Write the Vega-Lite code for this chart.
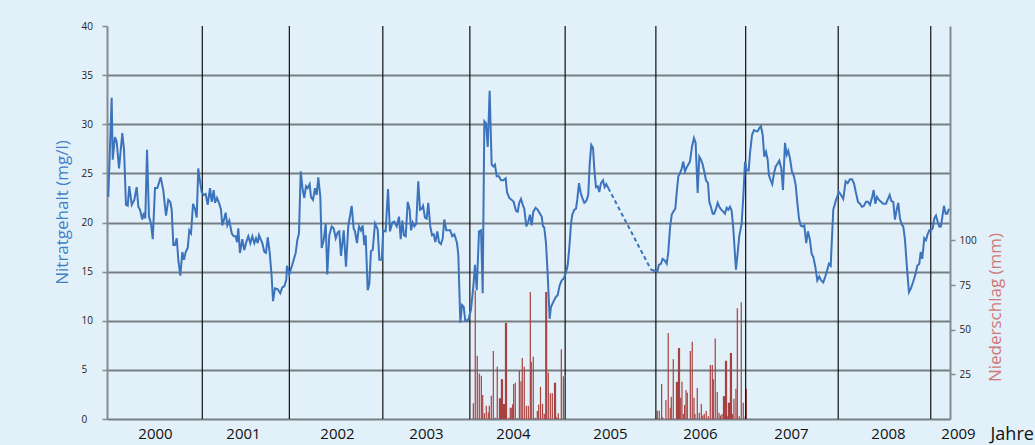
{
  "$schema": "https://vega.github.io/schema/vega-lite/v6.json",
  "width": 843,
  "height": 393,
  "autosize": {"type": "none"},
  "padding": {"left": 107, "top": 26, "right": 85, "bottom": 26},
  "background": "#e2f0f9",
  "config": {"view": {"stroke": null}, "font": "Open Sans"},
  "datasets": {
    "grenzen": [
      {"jahr": 2001.04}, {"jahr": 2001.99}, {"jahr": 2003.01}, {"jahr": 2003.96}, {"jahr": 2005.0},
      {"jahr": 2005.99}, {"jahr": 2006.97}, {"jahr": 2007.98}, {"jahr": 2008.99}
    ],
    "regen": [
      {"jahr": 2003.998, "mm": 8.8}, {"jahr": 2004.019, "mm": 72}, {"jahr": 2004.041, "mm": 35.4}, {"jahr": 2004.063, "mm": 25.5},
      {"jahr": 2004.085, "mm": 24.2}, {"jahr": 2004.1, "mm": 13.4}, {"jahr": 2004.118, "mm": 3.2}, {"jahr": 2004.139, "mm": 7.4},
      {"jahr": 2004.161, "mm": 3.7}, {"jahr": 2004.172, "mm": 7.4}, {"jahr": 2004.194, "mm": 13.0}, {"jahr": 2004.216, "mm": 38.0},
      {"jahr": 2004.238, "mm": 0.7}, {"jahr": 2004.259, "mm": 29.2}, {"jahr": 2004.283, "mm": 11.6}, {"jahr": 2004.294, "mm": 11.6},
      {"jahr": 2004.305, "mm": 22.3}, {"jahr": 2004.316, "mm": 22.3}, {"jahr": 2004.327, "mm": 8.4}, {"jahr": 2004.338, "mm": 8.4},
      {"jahr": 2004.349, "mm": 53.8}, {"jahr": 2004.36, "mm": 53.8}, {"jahr": 2004.384, "mm": 0.7}, {"jahr": 2004.401, "mm": 6.3},
      {"jahr": 2004.412, "mm": 6.3}, {"jahr": 2004.427, "mm": 8.2}, {"jahr": 2004.438, "mm": 19.6}, {"jahr": 2004.456, "mm": 20.3},
      {"jahr": 2004.478, "mm": 0.5}, {"jahr": 2004.5, "mm": 27.0}, {"jahr": 2004.518, "mm": 21.2}, {"jahr": 2004.532, "mm": 34.2},
      {"jahr": 2004.554, "mm": 29.2}, {"jahr": 2004.576, "mm": 7.4}, {"jahr": 2004.598, "mm": 7.4}, {"jahr": 2004.62, "mm": 71.1},
      {"jahr": 2004.63, "mm": 32.0}, {"jahr": 2004.652, "mm": 34.8}, {"jahr": 2004.674, "mm": 0.7}, {"jahr": 2004.696, "mm": 4.5},
      {"jahr": 2004.711, "mm": 8.0}, {"jahr": 2004.731, "mm": 18.0}, {"jahr": 2004.753, "mm": 8.5}, {"jahr": 2004.772, "mm": 3.0},
      {"jahr": 2004.788, "mm": 71.1}, {"jahr": 2004.798, "mm": 71.1}, {"jahr": 2004.816, "mm": 26.1}, {"jahr": 2004.838, "mm": 14.4},
      {"jahr": 2004.86, "mm": 14.4}, {"jahr": 2004.884, "mm": 20.3}, {"jahr": 2004.895, "mm": 20.3}, {"jahr": 2004.908, "mm": 1.0},
      {"jahr": 2004.925, "mm": 3.2}, {"jahr": 2004.958, "mm": 39.1}, {"jahr": 2004.98, "mm": 24.0},
      {"jahr": 2006.005, "mm": 4.6}, {"jahr": 2006.027, "mm": 4.6}, {"jahr": 2006.053, "mm": 19.6}, {"jahr": 2006.064, "mm": 1.0},
      {"jahr": 2006.1, "mm": 10.6}, {"jahr": 2006.125, "mm": 48.2}, {"jahr": 2006.147, "mm": 6.3}, {"jahr": 2006.158, "mm": 12.5},
      {"jahr": 2006.18, "mm": 33.5}, {"jahr": 2006.215, "mm": 20.8}, {"jahr": 2006.226, "mm": 20.8}, {"jahr": 2006.237, "mm": 39.7},
      {"jahr": 2006.248, "mm": 39.7}, {"jahr": 2006.261, "mm": 11.9}, {"jahr": 2006.275, "mm": 20.8}, {"jahr": 2006.289, "mm": 2.8},
      {"jahr": 2006.304, "mm": 7.8}, {"jahr": 2006.319, "mm": 16.2}, {"jahr": 2006.333, "mm": 14.7}, {"jahr": 2006.366, "mm": 38.0},
      {"jahr": 2006.387, "mm": 43.2}, {"jahr": 2006.406, "mm": 11.9}, {"jahr": 2006.417, "mm": 2.8}, {"jahr": 2006.442, "mm": 17.3},
      {"jahr": 2006.464, "mm": 3.5}, {"jahr": 2006.486, "mm": 8.4}, {"jahr": 2006.501, "mm": 2.0}, {"jahr": 2006.518, "mm": 3.0},
      {"jahr": 2006.54, "mm": 4.5}, {"jahr": 2006.562, "mm": 1.5}, {"jahr": 2006.584, "mm": 30.2}, {"jahr": 2006.606, "mm": 30.2},
      {"jahr": 2006.617, "mm": 22.3}, {"jahr": 2006.638, "mm": 45.1}, {"jahr": 2006.66, "mm": 15.1}, {"jahr": 2006.679, "mm": 3.5},
      {"jahr": 2006.695, "mm": 2.0}, {"jahr": 2006.712, "mm": 2.8}, {"jahr": 2006.728, "mm": 12.8}, {"jahr": 2006.739, "mm": 12.8},
      {"jahr": 2006.75, "mm": 32.6}, {"jahr": 2006.761, "mm": 32.6}, {"jahr": 2006.774, "mm": 1.5}, {"jahr": 2006.782, "mm": 9.1},
      {"jahr": 2006.793, "mm": 9.1}, {"jahr": 2006.804, "mm": 37.0}, {"jahr": 2006.815, "mm": 37.0}, {"jahr": 2006.828, "mm": 2.8},
      {"jahr": 2006.842, "mm": 11.3}, {"jahr": 2006.864, "mm": 16.9}, {"jahr": 2006.879, "mm": 62.0}, {"jahr": 2006.9, "mm": 1.5},
      {"jahr": 2006.922, "mm": 65.4}, {"jahr": 2006.944, "mm": 9.1}, {"jahr": 2006.966, "mm": 1.5}, {"jahr": 2006.977, "mm": 16.9}
    ],
    "nitrat": [
      {"jahr": 2000.014, "nitrat": 22.6, "abschnitt": "a"}, {"jahr": 2000.051, "nitrat": 32.7, "abschnitt": "a"}, {"jahr": 2000.062, "nitrat": 26.4, "abschnitt": "a"},
      {"jahr": 2000.087, "nitrat": 28.7, "abschnitt": "a"}, {"jahr": 2000.106, "nitrat": 28.2, "abschnitt": "a"}, {"jahr": 2000.131, "nitrat": 25.5, "abschnitt": "a"},
      {"jahr": 2000.167, "nitrat": 29.1, "abschnitt": "a"}, {"jahr": 2000.186, "nitrat": 27.4, "abschnitt": "a"}, {"jahr": 2000.207, "nitrat": 21.8, "abschnitt": "a"},
      {"jahr": 2000.226, "nitrat": 21.7, "abschnitt": "a"}, {"jahr": 2000.243, "nitrat": 23.7, "abschnitt": "a"}, {"jahr": 2000.27, "nitrat": 21.8, "abschnitt": "a"},
      {"jahr": 2000.298, "nitrat": 22.3, "abschnitt": "a"}, {"jahr": 2000.324, "nitrat": 23.6, "abschnitt": "a"}, {"jahr": 2000.342, "nitrat": 21.6, "abschnitt": "a"},
      {"jahr": 2000.36, "nitrat": 21.3, "abschnitt": "a"}, {"jahr": 2000.385, "nitrat": 20.3, "abschnitt": "a"}, {"jahr": 2000.404, "nitrat": 21.0, "abschnitt": "a"},
      {"jahr": 2000.418, "nitrat": 20.4, "abschnitt": "a"}, {"jahr": 2000.437, "nitrat": 27.4, "abschnitt": "a"}, {"jahr": 2000.458, "nitrat": 20.6, "abschnitt": "a"},
      {"jahr": 2000.48, "nitrat": 19.9, "abschnitt": "a"}, {"jahr": 2000.499, "nitrat": 18.3, "abschnitt": "a"}, {"jahr": 2000.524, "nitrat": 23.5, "abschnitt": "a"},
      {"jahr": 2000.549, "nitrat": 23.5, "abschnitt": "a"}, {"jahr": 2000.586, "nitrat": 24.6, "abschnitt": "a"}, {"jahr": 2000.614, "nitrat": 23.3, "abschnitt": "a"},
      {"jahr": 2000.644, "nitrat": 20.7, "abschnitt": "a"}, {"jahr": 2000.669, "nitrat": 22.3, "abschnitt": "a"}, {"jahr": 2000.691, "nitrat": 22.1, "abschnitt": "a"},
      {"jahr": 2000.706, "nitrat": 21.3, "abschnitt": "a"}, {"jahr": 2000.724, "nitrat": 17.7, "abschnitt": "a"}, {"jahr": 2000.742, "nitrat": 17.7, "abschnitt": "a"},
      {"jahr": 2000.761, "nitrat": 18.4, "abschnitt": "a"}, {"jahr": 2000.778, "nitrat": 16.2, "abschnitt": "a"}, {"jahr": 2000.8, "nitrat": 14.6, "abschnitt": "a"},
      {"jahr": 2000.822, "nitrat": 17.0, "abschnitt": "a"}, {"jahr": 2000.84, "nitrat": 16.2, "abschnitt": "a"}, {"jahr": 2000.859, "nitrat": 17.0, "abschnitt": "a"},
      {"jahr": 2000.881, "nitrat": 17.4, "abschnitt": "a"}, {"jahr": 2000.898, "nitrat": 19.2, "abschnitt": "a"}, {"jahr": 2000.917, "nitrat": 18.9, "abschnitt": "a"},
      {"jahr": 2000.939, "nitrat": 21.9, "abschnitt": "a"}, {"jahr": 2000.96, "nitrat": 21.4, "abschnitt": "a"}, {"jahr": 2000.979, "nitrat": 20.5, "abschnitt": "a"},
      {"jahr": 2000.996, "nitrat": 25.5, "abschnitt": "a"}, {"jahr": 2001.015, "nitrat": 24.2, "abschnitt": "a"}, {"jahr": 2001.033, "nitrat": 23.1, "abschnitt": "a"},
      {"jahr": 2001.055, "nitrat": 22.8, "abschnitt": "a"}, {"jahr": 2001.077, "nitrat": 22.9, "abschnitt": "a"}, {"jahr": 2001.099, "nitrat": 21.8, "abschnitt": "a"},
      {"jahr": 2001.124, "nitrat": 23.5, "abschnitt": "a"}, {"jahr": 2001.143, "nitrat": 22.1, "abschnitt": "a"}, {"jahr": 2001.164, "nitrat": 23.3, "abschnitt": "a"},
      {"jahr": 2001.179, "nitrat": 22.0, "abschnitt": "a"}, {"jahr": 2001.2, "nitrat": 22.5, "abschnitt": "a"}, {"jahr": 2001.226, "nitrat": 21.9, "abschnitt": "a"},
      {"jahr": 2001.244, "nitrat": 21.3, "abschnitt": "a"}, {"jahr": 2001.258, "nitrat": 19.7, "abschnitt": "a"}, {"jahr": 2001.277, "nitrat": 20.3, "abschnitt": "a"},
      {"jahr": 2001.295, "nitrat": 21.0, "abschnitt": "a"}, {"jahr": 2001.313, "nitrat": 19.7, "abschnitt": "a"}, {"jahr": 2001.335, "nitrat": 20.2, "abschnitt": "a"},
      {"jahr": 2001.361, "nitrat": 18.9, "abschnitt": "a"}, {"jahr": 2001.383, "nitrat": 18.6, "abschnitt": "a"}, {"jahr": 2001.404, "nitrat": 18.6, "abschnitt": "a"},
      {"jahr": 2001.419, "nitrat": 18.0, "abschnitt": "a"}, {"jahr": 2001.433, "nitrat": 19.4, "abschnitt": "a"}, {"jahr": 2001.451, "nitrat": 16.9, "abschnitt": "a"},
      {"jahr": 2001.477, "nitrat": 18.3, "abschnitt": "a"}, {"jahr": 2001.498, "nitrat": 17.2, "abschnitt": "a"}, {"jahr": 2001.52, "nitrat": 18.0, "abschnitt": "a"},
      {"jahr": 2001.542, "nitrat": 18.6, "abschnitt": "a"}, {"jahr": 2001.564, "nitrat": 17.9, "abschnitt": "a"}, {"jahr": 2001.586, "nitrat": 18.6, "abschnitt": "a"},
      {"jahr": 2001.608, "nitrat": 17.9, "abschnitt": "a"}, {"jahr": 2001.626, "nitrat": 18.4, "abschnitt": "a"}, {"jahr": 2001.645, "nitrat": 17.9, "abschnitt": "a"},
      {"jahr": 2001.659, "nitrat": 18.7, "abschnitt": "a"}, {"jahr": 2001.681, "nitrat": 18.2, "abschnitt": "a"}, {"jahr": 2001.695, "nitrat": 17.9, "abschnitt": "a"},
      {"jahr": 2001.717, "nitrat": 17.0, "abschnitt": "a"}, {"jahr": 2001.735, "nitrat": 16.9, "abschnitt": "a"}, {"jahr": 2001.754, "nitrat": 18.5, "abschnitt": "a"},
      {"jahr": 2001.776, "nitrat": 16.9, "abschnitt": "a"}, {"jahr": 2001.797, "nitrat": 14.5, "abschnitt": "a"}, {"jahr": 2001.812, "nitrat": 12.0, "abschnitt": "a"},
      {"jahr": 2001.833, "nitrat": 13.3, "abschnitt": "a"}, {"jahr": 2001.863, "nitrat": 13.2, "abschnitt": "a"}, {"jahr": 2001.891, "nitrat": 12.8, "abschnitt": "a"},
      {"jahr": 2001.913, "nitrat": 13.4, "abschnitt": "a"}, {"jahr": 2001.935, "nitrat": 13.5, "abschnitt": "a"}, {"jahr": 2001.957, "nitrat": 14.2, "abschnitt": "a"},
      {"jahr": 2001.964, "nitrat": 15.6, "abschnitt": "a"}, {"jahr": 2001.989, "nitrat": 14.7, "abschnitt": "a"}, {"jahr": 2002.022, "nitrat": 15.7, "abschnitt": "a"},
      {"jahr": 2002.059, "nitrat": 16.9, "abschnitt": "a"}, {"jahr": 2002.077, "nitrat": 18.2, "abschnitt": "a"}, {"jahr": 2002.095, "nitrat": 18.9, "abschnitt": "a"},
      {"jahr": 2002.114, "nitrat": 25.2, "abschnitt": "a"}, {"jahr": 2002.136, "nitrat": 23.3, "abschnitt": "a"}, {"jahr": 2002.153, "nitrat": 22.5, "abschnitt": "a"},
      {"jahr": 2002.172, "nitrat": 23.7, "abschnitt": "a"}, {"jahr": 2002.19, "nitrat": 23.5, "abschnitt": "a"}, {"jahr": 2002.212, "nitrat": 23.9, "abschnitt": "a"},
      {"jahr": 2002.226, "nitrat": 22.6, "abschnitt": "a"}, {"jahr": 2002.248, "nitrat": 22.3, "abschnitt": "a"}, {"jahr": 2002.27, "nitrat": 23.5, "abschnitt": "a"},
      {"jahr": 2002.288, "nitrat": 22.8, "abschnitt": "a"}, {"jahr": 2002.306, "nitrat": 24.6, "abschnitt": "a"}, {"jahr": 2002.328, "nitrat": 22.6, "abschnitt": "a"},
      {"jahr": 2002.343, "nitrat": 17.4, "abschnitt": "a"}, {"jahr": 2002.365, "nitrat": 18.2, "abschnitt": "a"}, {"jahr": 2002.387, "nitrat": 19.9, "abschnitt": "a"},
      {"jahr": 2002.404, "nitrat": 14.7, "abschnitt": "a"}, {"jahr": 2002.426, "nitrat": 18.7, "abschnitt": "a"}, {"jahr": 2002.452, "nitrat": 19.6, "abschnitt": "a"},
      {"jahr": 2002.474, "nitrat": 19.4, "abschnitt": "a"}, {"jahr": 2002.496, "nitrat": 18.4, "abschnitt": "a"}, {"jahr": 2002.518, "nitrat": 19.0, "abschnitt": "a"},
      {"jahr": 2002.535, "nitrat": 19.1, "abschnitt": "a"}, {"jahr": 2002.554, "nitrat": 16.6, "abschnitt": "a"}, {"jahr": 2002.583, "nitrat": 19.2, "abschnitt": "a"},
      {"jahr": 2002.608, "nitrat": 15.5, "abschnitt": "a"}, {"jahr": 2002.633, "nitrat": 19.6, "abschnitt": "a"}, {"jahr": 2002.67, "nitrat": 21.7, "abschnitt": "a"},
      {"jahr": 2002.692, "nitrat": 19.4, "abschnitt": "a"}, {"jahr": 2002.706, "nitrat": 19.1, "abschnitt": "a"}, {"jahr": 2002.728, "nitrat": 17.9, "abschnitt": "a"},
      {"jahr": 2002.75, "nitrat": 19.6, "abschnitt": "a"}, {"jahr": 2002.772, "nitrat": 19.2, "abschnitt": "a"}, {"jahr": 2002.79, "nitrat": 19.7, "abschnitt": "a"},
      {"jahr": 2002.808, "nitrat": 17.7, "abschnitt": "a"}, {"jahr": 2002.823, "nitrat": 18.7, "abschnitt": "a"}, {"jahr": 2002.845, "nitrat": 13.1, "abschnitt": "a"},
      {"jahr": 2002.862, "nitrat": 13.7, "abschnitt": "a"}, {"jahr": 2002.881, "nitrat": 17.1, "abschnitt": "a"}, {"jahr": 2002.9, "nitrat": 17.2, "abschnitt": "a"},
      {"jahr": 2002.925, "nitrat": 19.9, "abschnitt": "a"}, {"jahr": 2002.954, "nitrat": 19.3, "abschnitt": "a"}, {"jahr": 2002.972, "nitrat": 16.2, "abschnitt": "a"},
      {"jahr": 2002.998, "nitrat": 16.2, "abschnitt": "a"}, {"jahr": 2003.015, "nitrat": 19.2, "abschnitt": "a"}, {"jahr": 2003.041, "nitrat": 19.1, "abschnitt": "a"},
      {"jahr": 2003.067, "nitrat": 23.4, "abschnitt": "a"}, {"jahr": 2003.088, "nitrat": 19.1, "abschnitt": "a"}, {"jahr": 2003.114, "nitrat": 20.0, "abschnitt": "a"},
      {"jahr": 2003.135, "nitrat": 20.1, "abschnitt": "a"}, {"jahr": 2003.162, "nitrat": 19.6, "abschnitt": "a"}, {"jahr": 2003.187, "nitrat": 20.6, "abschnitt": "a"},
      {"jahr": 2003.205, "nitrat": 18.3, "abschnitt": "a"}, {"jahr": 2003.223, "nitrat": 20.2, "abschnitt": "a"}, {"jahr": 2003.241, "nitrat": 18.7, "abschnitt": "a"},
      {"jahr": 2003.26, "nitrat": 18.6, "abschnitt": "a"}, {"jahr": 2003.282, "nitrat": 22.1, "abschnitt": "a"}, {"jahr": 2003.303, "nitrat": 21.3, "abschnitt": "a"},
      {"jahr": 2003.318, "nitrat": 19.2, "abschnitt": "a"}, {"jahr": 2003.336, "nitrat": 20.0, "abschnitt": "a"}, {"jahr": 2003.354, "nitrat": 19.6, "abschnitt": "a"},
      {"jahr": 2003.375, "nitrat": 19.9, "abschnitt": "a"}, {"jahr": 2003.397, "nitrat": 24.2, "abschnitt": "a"}, {"jahr": 2003.416, "nitrat": 21.3, "abschnitt": "a"},
      {"jahr": 2003.434, "nitrat": 21.4, "abschnitt": "a"}, {"jahr": 2003.449, "nitrat": 21.7, "abschnitt": "a"}, {"jahr": 2003.47, "nitrat": 20.5, "abschnitt": "a"},
      {"jahr": 2003.489, "nitrat": 20.4, "abschnitt": "a"}, {"jahr": 2003.506, "nitrat": 22.0, "abschnitt": "a"}, {"jahr": 2003.528, "nitrat": 19.6, "abschnitt": "a"},
      {"jahr": 2003.547, "nitrat": 18.7, "abschnitt": "a"}, {"jahr": 2003.565, "nitrat": 18.8, "abschnitt": "a"}, {"jahr": 2003.583, "nitrat": 18.0, "abschnitt": "a"},
      {"jahr": 2003.605, "nitrat": 19.1, "abschnitt": "a"}, {"jahr": 2003.623, "nitrat": 18.0, "abschnitt": "a"}, {"jahr": 2003.645, "nitrat": 17.8, "abschnitt": "a"},
      {"jahr": 2003.664, "nitrat": 18.4, "abschnitt": "a"}, {"jahr": 2003.681, "nitrat": 20.3, "abschnitt": "a"}, {"jahr": 2003.703, "nitrat": 19.2, "abschnitt": "a"},
      {"jahr": 2003.725, "nitrat": 19.2, "abschnitt": "a"}, {"jahr": 2003.746, "nitrat": 19.2, "abschnitt": "a"}, {"jahr": 2003.768, "nitrat": 18.6, "abschnitt": "a"},
      {"jahr": 2003.79, "nitrat": 18.8, "abschnitt": "a"}, {"jahr": 2003.805, "nitrat": 18.4, "abschnitt": "a"}, {"jahr": 2003.82, "nitrat": 17.9, "abschnitt": "a"},
      {"jahr": 2003.834, "nitrat": 16.7, "abschnitt": "a"}, {"jahr": 2003.856, "nitrat": 9.8, "abschnitt": "a"}, {"jahr": 2003.874, "nitrat": 11.6, "abschnitt": "a"},
      {"jahr": 2003.893, "nitrat": 11.4, "abschnitt": "a"}, {"jahr": 2003.91, "nitrat": 10.0, "abschnitt": "a"}, {"jahr": 2003.943, "nitrat": 10.1, "abschnitt": "a"},
      {"jahr": 2003.972, "nitrat": 11.1, "abschnitt": "a"}, {"jahr": 2003.998, "nitrat": 13.5, "abschnitt": "a"}, {"jahr": 2004.016, "nitrat": 15.7, "abschnitt": "a"},
      {"jahr": 2004.035, "nitrat": 13.1, "abschnitt": "a"}, {"jahr": 2004.06, "nitrat": 19.1, "abschnitt": "a"}, {"jahr": 2004.082, "nitrat": 19.2, "abschnitt": "a"},
      {"jahr": 2004.1, "nitrat": 12.8, "abschnitt": "a"}, {"jahr": 2004.118, "nitrat": 30.3, "abschnitt": "a"}, {"jahr": 2004.136, "nitrat": 30.1, "abschnitt": "a"},
      {"jahr": 2004.155, "nitrat": 27.7, "abschnitt": "a"}, {"jahr": 2004.176, "nitrat": 33.4, "abschnitt": "a"}, {"jahr": 2004.198, "nitrat": 25.9, "abschnitt": "a"},
      {"jahr": 2004.216, "nitrat": 25.7, "abschnitt": "a"}, {"jahr": 2004.234, "nitrat": 25.9, "abschnitt": "a"}, {"jahr": 2004.253, "nitrat": 24.7, "abschnitt": "a"},
      {"jahr": 2004.278, "nitrat": 24.7, "abschnitt": "a"}, {"jahr": 2004.3, "nitrat": 24.3, "abschnitt": "a"}, {"jahr": 2004.325, "nitrat": 24.3, "abschnitt": "a"},
      {"jahr": 2004.351, "nitrat": 24.5, "abschnitt": "a"}, {"jahr": 2004.365, "nitrat": 23.1, "abschnitt": "a"}, {"jahr": 2004.39, "nitrat": 22.5, "abschnitt": "a"},
      {"jahr": 2004.417, "nitrat": 22.3, "abschnitt": "a"}, {"jahr": 2004.438, "nitrat": 22.1, "abschnitt": "a"}, {"jahr": 2004.463, "nitrat": 21.2, "abschnitt": "a"},
      {"jahr": 2004.482, "nitrat": 21.1, "abschnitt": "a"}, {"jahr": 2004.499, "nitrat": 22.0, "abschnitt": "a"}, {"jahr": 2004.518, "nitrat": 22.4, "abschnitt": "a"},
      {"jahr": 2004.537, "nitrat": 21.8, "abschnitt": "a"}, {"jahr": 2004.554, "nitrat": 21.4, "abschnitt": "a"}, {"jahr": 2004.576, "nitrat": 19.6, "abschnitt": "a"},
      {"jahr": 2004.598, "nitrat": 20.1, "abschnitt": "a"}, {"jahr": 2004.616, "nitrat": 20.8, "abschnitt": "a"}, {"jahr": 2004.635, "nitrat": 19.7, "abschnitt": "a"},
      {"jahr": 2004.652, "nitrat": 21.1, "abschnitt": "a"}, {"jahr": 2004.678, "nitrat": 21.5, "abschnitt": "a"}, {"jahr": 2004.7, "nitrat": 21.3, "abschnitt": "a"},
      {"jahr": 2004.725, "nitrat": 20.9, "abschnitt": "a"}, {"jahr": 2004.744, "nitrat": 20.6, "abschnitt": "a"}, {"jahr": 2004.758, "nitrat": 19.6, "abschnitt": "a"},
      {"jahr": 2004.772, "nitrat": 19.5, "abschnitt": "a"}, {"jahr": 2004.791, "nitrat": 17.9, "abschnitt": "a"}, {"jahr": 2004.809, "nitrat": 14.8, "abschnitt": "a"},
      {"jahr": 2004.831, "nitrat": 10.2, "abschnitt": "a"}, {"jahr": 2004.845, "nitrat": 11.4, "abschnitt": "a"}, {"jahr": 2004.87, "nitrat": 11.9, "abschnitt": "a"},
      {"jahr": 2004.897, "nitrat": 12.4, "abschnitt": "a"}, {"jahr": 2004.918, "nitrat": 12.6, "abschnitt": "a"}, {"jahr": 2004.94, "nitrat": 13.6, "abschnitt": "a"},
      {"jahr": 2004.962, "nitrat": 14.1, "abschnitt": "a"}, {"jahr": 2004.984, "nitrat": 14.3, "abschnitt": "a"}, {"jahr": 2005.009, "nitrat": 14.9, "abschnitt": "a"},
      {"jahr": 2005.028, "nitrat": 15.7, "abschnitt": "a"}, {"jahr": 2005.045, "nitrat": 17.4, "abschnitt": "a"}, {"jahr": 2005.064, "nitrat": 19.9, "abschnitt": "a"},
      {"jahr": 2005.078, "nitrat": 20.8, "abschnitt": "a"}, {"jahr": 2005.1, "nitrat": 21.3, "abschnitt": "a"}, {"jahr": 2005.118, "nitrat": 21.4, "abschnitt": "a"},
      {"jahr": 2005.132, "nitrat": 22.3, "abschnitt": "a"}, {"jahr": 2005.151, "nitrat": 24.0, "abschnitt": "a"}, {"jahr": 2005.17, "nitrat": 23.0, "abschnitt": "a"},
      {"jahr": 2005.187, "nitrat": 22.5, "abschnitt": "a"}, {"jahr": 2005.209, "nitrat": 22.0, "abschnitt": "a"}, {"jahr": 2005.231, "nitrat": 22.2, "abschnitt": "a"},
      {"jahr": 2005.252, "nitrat": 22.8, "abschnitt": "a"}, {"jahr": 2005.268, "nitrat": 26.0, "abschnitt": "a"}, {"jahr": 2005.285, "nitrat": 27.9, "abschnitt": "a"},
      {"jahr": 2005.304, "nitrat": 27.6, "abschnitt": "a"}, {"jahr": 2005.318, "nitrat": 25.5, "abschnitt": "a"}, {"jahr": 2005.336, "nitrat": 23.6, "abschnitt": "a"},
      {"jahr": 2005.355, "nitrat": 23.7, "abschnitt": "a"}, {"jahr": 2005.372, "nitrat": 23.1, "abschnitt": "a"}, {"jahr": 2005.391, "nitrat": 24.0, "abschnitt": "a"},
      {"jahr": 2005.413, "nitrat": 24.3, "abschnitt": "a"}, {"jahr": 2005.431, "nitrat": 23.6, "abschnitt": "a"}, {"jahr": 2005.449, "nitrat": 23.9, "abschnitt": "a"},
      {"jahr": 2005.471, "nitrat": 23.5, "abschnitt": "a"},
      {"jahr": 2005.471, "nitrat": 23.5, "abschnitt": "luecke"}, {"jahr": 2005.937, "nitrat": 15.2, "abschnitt": "luecke"},
      {"jahr": 2005.937, "nitrat": 15.2, "abschnitt": "b"}, {"jahr": 2006.005, "nitrat": 15.0, "abschnitt": "b"}, {"jahr": 2006.024, "nitrat": 15.7, "abschnitt": "b"},
      {"jahr": 2006.046, "nitrat": 15.8, "abschnitt": "b"}, {"jahr": 2006.064, "nitrat": 16.3, "abschnitt": "b"}, {"jahr": 2006.089, "nitrat": 16.1, "abschnitt": "b"},
      {"jahr": 2006.108, "nitrat": 15.8, "abschnitt": "b"}, {"jahr": 2006.125, "nitrat": 16.9, "abschnitt": "b"}, {"jahr": 2006.144, "nitrat": 19.4, "abschnitt": "b"},
      {"jahr": 2006.163, "nitrat": 20.8, "abschnitt": "b"}, {"jahr": 2006.18, "nitrat": 21.1, "abschnitt": "b"}, {"jahr": 2006.202, "nitrat": 21.4, "abschnitt": "b"},
      {"jahr": 2006.217, "nitrat": 23.0, "abschnitt": "b"}, {"jahr": 2006.235, "nitrat": 24.7, "abschnitt": "b"}, {"jahr": 2006.253, "nitrat": 25.0, "abschnitt": "b"},
      {"jahr": 2006.272, "nitrat": 25.5, "abschnitt": "b"}, {"jahr": 2006.289, "nitrat": 26.2, "abschnitt": "b"}, {"jahr": 2006.308, "nitrat": 25.2, "abschnitt": "b"},
      {"jahr": 2006.326, "nitrat": 25.6, "abschnitt": "b"}, {"jahr": 2006.344, "nitrat": 25.9, "abschnitt": "b"}, {"jahr": 2006.362, "nitrat": 26.2, "abschnitt": "b"},
      {"jahr": 2006.384, "nitrat": 27.7, "abschnitt": "b"}, {"jahr": 2006.406, "nitrat": 28.6, "abschnitt": "b"}, {"jahr": 2006.424, "nitrat": 28.1, "abschnitt": "b"},
      {"jahr": 2006.446, "nitrat": 23.0, "abschnitt": "b"}, {"jahr": 2006.464, "nitrat": 26.7, "abschnitt": "b"}, {"jahr": 2006.482, "nitrat": 26.4, "abschnitt": "b"},
      {"jahr": 2006.501, "nitrat": 25.9, "abschnitt": "b"}, {"jahr": 2006.518, "nitrat": 25.2, "abschnitt": "b"}, {"jahr": 2006.537, "nitrat": 24.3, "abschnitt": "b"},
      {"jahr": 2006.559, "nitrat": 24.0, "abschnitt": "b"}, {"jahr": 2006.573, "nitrat": 22.1, "abschnitt": "b"}, {"jahr": 2006.591, "nitrat": 21.6, "abschnitt": "b"},
      {"jahr": 2006.61, "nitrat": 20.9, "abschnitt": "b"}, {"jahr": 2006.627, "nitrat": 20.9, "abschnitt": "b"}, {"jahr": 2006.646, "nitrat": 21.4, "abschnitt": "b"},
      {"jahr": 2006.665, "nitrat": 22.0, "abschnitt": "b"}, {"jahr": 2006.682, "nitrat": 21.6, "abschnitt": "b"}, {"jahr": 2006.704, "nitrat": 21.3, "abschnitt": "b"},
      {"jahr": 2006.726, "nitrat": 21.1, "abschnitt": "b"}, {"jahr": 2006.744, "nitrat": 20.9, "abschnitt": "b"}, {"jahr": 2006.763, "nitrat": 21.5, "abschnitt": "b"},
      {"jahr": 2006.78, "nitrat": 21.3, "abschnitt": "b"}, {"jahr": 2006.799, "nitrat": 21.6, "abschnitt": "b"}, {"jahr": 2006.817, "nitrat": 21.2, "abschnitt": "b"},
      {"jahr": 2006.835, "nitrat": 19.4, "abschnitt": "b"}, {"jahr": 2006.85, "nitrat": 17.2, "abschnitt": "b"}, {"jahr": 2006.864, "nitrat": 15.2, "abschnitt": "b"},
      {"jahr": 2006.883, "nitrat": 16.9, "abschnitt": "b"}, {"jahr": 2006.9, "nitrat": 18.6, "abschnitt": "b"}, {"jahr": 2006.926, "nitrat": 19.9, "abschnitt": "b"},
      {"jahr": 2006.944, "nitrat": 22.6, "abschnitt": "b"}, {"jahr": 2006.963, "nitrat": 26.2, "abschnitt": "b"}, {"jahr": 2006.981, "nitrat": 25.3, "abschnitt": "b"},
      {"jahr": 2007.003, "nitrat": 25.3, "abschnitt": "b"}, {"jahr": 2007.017, "nitrat": 27.0, "abschnitt": "b"}, {"jahr": 2007.039, "nitrat": 28.9, "abschnitt": "b"},
      {"jahr": 2007.061, "nitrat": 29.4, "abschnitt": "b"}, {"jahr": 2007.083, "nitrat": 29.3, "abschnitt": "b"}, {"jahr": 2007.101, "nitrat": 29.3, "abschnitt": "b"},
      {"jahr": 2007.119, "nitrat": 29.6, "abschnitt": "b"}, {"jahr": 2007.137, "nitrat": 29.8, "abschnitt": "b"}, {"jahr": 2007.156, "nitrat": 28.9, "abschnitt": "b"},
      {"jahr": 2007.173, "nitrat": 26.7, "abschnitt": "b"}, {"jahr": 2007.192, "nitrat": 27.2, "abschnitt": "b"}, {"jahr": 2007.21, "nitrat": 26.4, "abschnitt": "b"},
      {"jahr": 2007.224, "nitrat": 24.8, "abschnitt": "b"}, {"jahr": 2007.243, "nitrat": 24.3, "abschnitt": "b"}, {"jahr": 2007.26, "nitrat": 23.9, "abschnitt": "b"},
      {"jahr": 2007.279, "nitrat": 25.0, "abschnitt": "b"}, {"jahr": 2007.298, "nitrat": 25.7, "abschnitt": "b"}, {"jahr": 2007.319, "nitrat": 26.0, "abschnitt": "b"},
      {"jahr": 2007.337, "nitrat": 26.3, "abschnitt": "b"}, {"jahr": 2007.359, "nitrat": 25.5, "abschnitt": "b"}, {"jahr": 2007.377, "nitrat": 23.3, "abschnitt": "b"},
      {"jahr": 2007.399, "nitrat": 28.1, "abschnitt": "b"}, {"jahr": 2007.418, "nitrat": 26.9, "abschnitt": "b"}, {"jahr": 2007.435, "nitrat": 27.3, "abschnitt": "b"},
      {"jahr": 2007.454, "nitrat": 26.5, "abschnitt": "b"}, {"jahr": 2007.475, "nitrat": 25.2, "abschnitt": "b"}, {"jahr": 2007.497, "nitrat": 24.7, "abschnitt": "b"},
      {"jahr": 2007.516, "nitrat": 23.8, "abschnitt": "b"}, {"jahr": 2007.533, "nitrat": 22.1, "abschnitt": "b"}, {"jahr": 2007.552, "nitrat": 20.4, "abschnitt": "b"},
      {"jahr": 2007.57, "nitrat": 19.7, "abschnitt": "b"}, {"jahr": 2007.588, "nitrat": 19.6, "abschnitt": "b"}, {"jahr": 2007.61, "nitrat": 19.7, "abschnitt": "b"},
      {"jahr": 2007.631, "nitrat": 17.9, "abschnitt": "b"}, {"jahr": 2007.65, "nitrat": 19.1, "abschnitt": "b"}, {"jahr": 2007.672, "nitrat": 18.2, "abschnitt": "b"},
      {"jahr": 2007.69, "nitrat": 16.8, "abschnitt": "b"}, {"jahr": 2007.708, "nitrat": 16.5, "abschnitt": "b"}, {"jahr": 2007.73, "nitrat": 15.5, "abschnitt": "b"},
      {"jahr": 2007.752, "nitrat": 14.1, "abschnitt": "b"}, {"jahr": 2007.773, "nitrat": 14.5, "abschnitt": "b"}, {"jahr": 2007.795, "nitrat": 14.1, "abschnitt": "b"},
      {"jahr": 2007.817, "nitrat": 13.9, "abschnitt": "b"}, {"jahr": 2007.839, "nitrat": 14.5, "abschnitt": "b"}, {"jahr": 2007.861, "nitrat": 15.2, "abschnitt": "b"},
      {"jahr": 2007.879, "nitrat": 15.8, "abschnitt": "b"}, {"jahr": 2007.898, "nitrat": 15.6, "abschnitt": "b"}, {"jahr": 2007.926, "nitrat": 21.3, "abschnitt": "b"},
      {"jahr": 2007.956, "nitrat": 22.3, "abschnitt": "b"}, {"jahr": 2007.988, "nitrat": 23.1, "abschnitt": "b"}, {"jahr": 2008.01, "nitrat": 22.8, "abschnitt": "b"},
      {"jahr": 2008.035, "nitrat": 22.4, "abschnitt": "b"}, {"jahr": 2008.061, "nitrat": 24.2, "abschnitt": "b"}, {"jahr": 2008.083, "nitrat": 24.0, "abschnitt": "b"},
      {"jahr": 2008.108, "nitrat": 24.4, "abschnitt": "b"}, {"jahr": 2008.13, "nitrat": 24.4, "abschnitt": "b"}, {"jahr": 2008.152, "nitrat": 24.0, "abschnitt": "b"},
      {"jahr": 2008.174, "nitrat": 23.0, "abschnitt": "b"}, {"jahr": 2008.196, "nitrat": 22.1, "abschnitt": "b"}, {"jahr": 2008.218, "nitrat": 21.9, "abschnitt": "b"},
      {"jahr": 2008.239, "nitrat": 21.6, "abschnitt": "b"}, {"jahr": 2008.261, "nitrat": 21.7, "abschnitt": "b"}, {"jahr": 2008.283, "nitrat": 22.1, "abschnitt": "b"},
      {"jahr": 2008.305, "nitrat": 22.1, "abschnitt": "b"}, {"jahr": 2008.327, "nitrat": 21.8, "abschnitt": "b"}, {"jahr": 2008.348, "nitrat": 22.5, "abschnitt": "b"},
      {"jahr": 2008.367, "nitrat": 23.3, "abschnitt": "b"}, {"jahr": 2008.385, "nitrat": 21.9, "abschnitt": "b"}, {"jahr": 2008.403, "nitrat": 22.6, "abschnitt": "b"},
      {"jahr": 2008.425, "nitrat": 22.3, "abschnitt": "b"}, {"jahr": 2008.447, "nitrat": 22.1, "abschnitt": "b"}, {"jahr": 2008.472, "nitrat": 21.9, "abschnitt": "b"},
      {"jahr": 2008.501, "nitrat": 21.9, "abschnitt": "b"}, {"jahr": 2008.523, "nitrat": 22.4, "abschnitt": "b"}, {"jahr": 2008.542, "nitrat": 22.8, "abschnitt": "b"},
      {"jahr": 2008.559, "nitrat": 22.2, "abschnitt": "b"}, {"jahr": 2008.581, "nitrat": 22.1, "abschnitt": "b"}, {"jahr": 2008.599, "nitrat": 20.3, "abschnitt": "b"},
      {"jahr": 2008.618, "nitrat": 21.3, "abschnitt": "b"}, {"jahr": 2008.635, "nitrat": 22.0, "abschnitt": "b"}, {"jahr": 2008.654, "nitrat": 20.4, "abschnitt": "b"},
      {"jahr": 2008.673, "nitrat": 19.8, "abschnitt": "b"}, {"jahr": 2008.69, "nitrat": 19.6, "abschnitt": "b"}, {"jahr": 2008.709, "nitrat": 18.2, "abschnitt": "b"},
      {"jahr": 2008.727, "nitrat": 15.8, "abschnitt": "b"}, {"jahr": 2008.752, "nitrat": 12.9, "abschnitt": "b"}, {"jahr": 2008.774, "nitrat": 13.3, "abschnitt": "b"},
      {"jahr": 2008.799, "nitrat": 14.0, "abschnitt": "b"}, {"jahr": 2008.825, "nitrat": 14.8, "abschnitt": "b"}, {"jahr": 2008.843, "nitrat": 15.6, "abschnitt": "b"},
      {"jahr": 2008.865, "nitrat": 15.8, "abschnitt": "b"}, {"jahr": 2008.88, "nitrat": 17.0, "abschnitt": "b"}, {"jahr": 2008.897, "nitrat": 16.3, "abschnitt": "b"},
      {"jahr": 2008.919, "nitrat": 18.4, "abschnitt": "b"}, {"jahr": 2008.938, "nitrat": 18.2, "abschnitt": "b"}, {"jahr": 2008.956, "nitrat": 18.8, "abschnitt": "b"},
      {"jahr": 2008.974, "nitrat": 19.2, "abschnitt": "b"}, {"jahr": 2008.992, "nitrat": 19.2, "abschnitt": "b"}, {"jahr": 2009.011, "nitrat": 19.4, "abschnitt": "b"},
      {"jahr": 2009.028, "nitrat": 20.4, "abschnitt": "b"}, {"jahr": 2009.047, "nitrat": 20.7, "abschnitt": "b"}, {"jahr": 2009.065, "nitrat": 20.1, "abschnitt": "b"},
      {"jahr": 2009.083, "nitrat": 19.6, "abschnitt": "b"}, {"jahr": 2009.101, "nitrat": 19.6, "abschnitt": "b"}, {"jahr": 2009.12, "nitrat": 20.8, "abschnitt": "b"},
      {"jahr": 2009.134, "nitrat": 21.7, "abschnitt": "b"}, {"jahr": 2009.153, "nitrat": 20.9, "abschnitt": "b"}, {"jahr": 2009.17, "nitrat": 20.9, "abschnitt": "b"},
      {"jahr": 2009.189, "nitrat": 21.4, "abschnitt": "b"}
    ]
  },
  "encoding": {
    "x": {
      "field": "jahr",
      "type": "quantitative",
      "scale": {"domain": [2000, 2009.2], "nice": false, "zero": false, "padding": 0},
      "axis": {
        "values": [2000.524, 2001.484, 2002.51, 2003.481, 2004.431, 2005.489, 2006.471, 2007.465, 2008.523, 2009.2],
        "labelExpr": "'' + floor(datum.value)",
        "labelOffset": {"condition": {"test": "datum.value > 2009", "value": 8}, "value": 0},
        "ticks": false,
        "domain": false,
        "grid": false,
        "labelFlush": false,
        "labelOverlap": false,
        "labelFontSize": 15,
        "labelColor": "#111111",
        "labelPadding": 7,
        "title": "Jahre",
        "titleFontSize": 18,
        "titleFontWeight": "normal",
        "titleColor": "#111111",
        "titleAlign": "left",
        "titleBaseline": "middle",
        "titleX": 883,
        "titleY": 15
      }
    }
  },
  "layer": [
    {
      "data": {"name": "regen"},
      "mark": {"type": "bar", "color": "#a8413f", "size": 1.2, "orient": "vertical"},
      "encoding": {
        "y": {
          "field": "mm",
          "type": "quantitative",
          "stack": null,
          "scale": {"domain": [0, 220], "nice": false},
          "axis": {
            "orient": "right",
            "values": [25, 50, 75, 100],
            "grid": false,
            "domainColor": "#858a8e",
            "domainWidth": 2,
            "tickColor": "#858a8e",
            "tickSize": 5,
            "tickWidth": 1.5,
            "labelFontSize": 10,
            "labelColor": "#222222",
            "labelPadding": 4,
            "title": "Niederschlag (mm)",
            "titleColor": "#cf7776",
            "titleFontSize": 17,
            "titleFontWeight": "normal",
            "titleAngle": 270,
            "titleAlign": "center",
            "titleBaseline": "middle",
            "titleX": 45,
            "titleY": 281
          }
        }
      }
    },
    {
      "data": {"name": "nitrat"},
      "layer": [
        {
          "data": {"name": "grenzen"},
          "mark": {"type": "rule", "color": "#111111", "strokeWidth": 1.2},
          "encoding": {}
        },
        {
          "mark": {"type": "line", "color": "#3b73bc", "strokeWidth": 2},
          "encoding": {
            "y": {
              "field": "nitrat",
              "type": "quantitative",
              "scale": {"domain": [0, 40], "nice": false},
              "axis": {
                "orient": "left",
                "values": [0, 5, 10, 15, 20, 25, 30, 35, 40],
                "grid": true,
                "gridColor": "#6c7176",
                "gridWidth": 2,
                "gridOpacity": {"condition": {"test": "datum.value == 40", "value": 0}, "value": 0.9},
                "domainColor": "#858a8e",
                "domainWidth": 2,
                "tickColor": "#858a8e",
                "tickSize": 5,
                "tickWidth": 1.5,
                "labelAlign": "left",
                "labelFontSize": 10,
                "labelColor": "#222222",
                "labelPadding": 21,
                "title": "Nitratgehalt (mg/l)",
                "titleColor": "#3f7fc6",
                "titleFontSize": 17,
                "titleFontWeight": "normal",
                "titleAngle": 270,
                "titleAlign": "center",
                "titleBaseline": "middle",
                "titleX": -45,
                "titleY": 186
              }
            },
            "detail": {"field": "abschnitt", "type": "nominal"},
            "strokeDash": {
              "field": "abschnitt",
              "type": "nominal",
              "scale": {"domain": ["a", "luecke", "b"], "range": [[1, 0], [4, 3], [1, 0]]},
              "legend": null
            },
            "strokeWidth": {
              "field": "abschnitt",
              "type": "nominal",
              "scale": {"domain": ["a", "luecke", "b"], "range": [2, 1.5, 2]},
              "legend": null
            }
          }
        }
      ]
    }
  ],
  "resolve": {"scale": {"y": "independent"}}
}
